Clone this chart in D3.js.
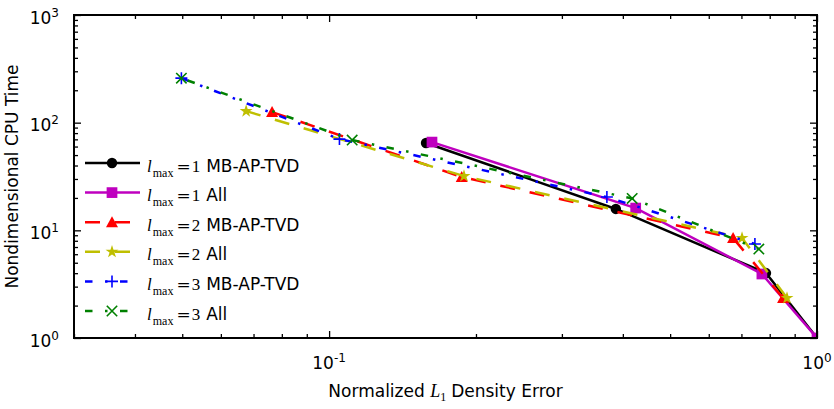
<!DOCTYPE html>
<html lang="en">
<head>
<meta charset="UTF-8">
<title>CPU time vs density error</title>
<script src="https://d3js.org/d3.v7.min.js"></script>
<style>
  body { margin: 0; background: #fff; }
  svg { display: block; font-family: "DejaVu Sans", sans-serif; }
  .math { font-family: "Liberation Serif", "DejaVu Serif", serif; }
  .tick line { stroke: #000; stroke-width: 1.3; }
</style>
</head>
<body>
<svg id="chart" width="834" height="409"></svg>
<script>
// values (x = normalized L1 error, y = CPU time)
const l1MbErr  = [0.158, 0.387, 0.786, 1.0];
const l1MbCpu  = [64.7, 15.8, 4.01, 1.0];
const l1AllErr = [0.1625, 0.425, 0.771, 1.0];
const l1AllCpu = [66.0, 16.1, 3.93, 1.0];
const l2MbErr  = [0.0764, 0.187, 0.673, 0.852];
const l2MbCpu  = [125.4, 31.3, 8.48, 2.35];
const l2AllErr = [0.0676, 0.189, 0.702, 0.868];
const l2AllCpu = [128, 31.9, 8.48, 2.35];
const l3MbErr  = [0.0498, 0.105, 0.371, 0.746];
const l3MbCpu  = [259, 70.4, 20.4, 7.46];
const l3AllErr = [0.0498, 0.1115, 0.418, 0.760];
const l3AllCpu = [259, 68.9, 19.8, 6.70];

const lmaxValues = ["1", "1", "2", "2", "3", "3"];
const methodNames = ["MB-AP-TVD", "All", "MB-AP-TVD", "All", "MB-AP-TVD", "All"];

const xMajorTicks = [0.1, 1];
const yMajorTicks = [1, 10, 100, 1000];
const xTickExp = ["-1", "0"];
const yTickExp = ["0", "1", "2", "3"];

const width = 834, height = 409;
const margin = {top: 15, right: 17, bottom: 71, left: 74};
const fs = 17;

const x = d3.scaleLog().domain([0.03, 1]).range([margin.left, width - margin.right]);
const y = d3.scaleLog().domain([1, 1000]).range([height - margin.bottom, margin.top]);

const svg = d3.select("#chart");

// series table (style per series)
const series = [
    {err: l1MbErr,  cpu: l1MbCpu,  color: "#000000", dash: null,                 marker: "circle"},
    {err: l1AllErr, cpu: l1AllCpu, color: "#bf00bf", dash: null,                 marker: "square"},
    {err: l2MbErr,  cpu: l2MbCpu,  color: "#ff0000", dash: "15,15",              marker: "triangle"},
    {err: l2AllErr, cpu: l2AllCpu, color: "#bfbf00", dash: "15,15",              marker: "star"},
    {err: l3MbErr,  cpu: l3MbCpu,  color: "#0000ff", dash: "7.5,12.5,2.5,12.5",  marker: "plus"},
    {err: l3AllErr, cpu: l3AllCpu, color: "#008000", dash: "7.5,12.5,2.5,12.5",  marker: "cross", offset: 28.3}
];
series.forEach((s, i) => {
    s.points = s.err.map((e, j) => [e, s.cpu[j]]);
    s.lmax = lmaxValues[i];
    s.name = methodNames[i];
});

function drawMarker(g, type, color) {
    if (type === "plus") {
        g.append("path").attr("d", "M-6,0H6M0,-6V6")
            .attr("stroke", color).attr("stroke-width", 1.6).attr("fill", "none");
    } else if (type === "cross") {
        g.append("path").attr("d", "M-5.2,-5.2L5.2,5.2M-5.2,5.2L5.2,-5.2")
            .attr("stroke", color).attr("stroke-width", 1.6).attr("fill", "none");
    } else if (type === "triangle") {
        g.append("path").attr("d", "M0,-6L6,5L-6,5Z").attr("fill", color);
    } else {
        const sym = {circle: [d3.symbolCircle, 85], square: [d3.symbolSquare, 115], star: [d3.symbolStar, 52]}[type];
        g.append("path").attr("d", d3.symbol(sym[0], sym[1])()).attr("fill", color);
    }
}

// clip
svg.append("defs").append("clipPath").attr("id", "plotClip")
    .append("rect")
    .attr("x", margin.left).attr("y", margin.top)
    .attr("width", width - margin.left - margin.right)
    .attr("height", height - margin.top - margin.bottom);

// ticks (inward, all four sides)
const xMinor = x.ticks().filter(v => !xMajorTicks.includes(+v.toPrecision(3)));
const yMinor = y.ticks().filter(v => !yMajorTicks.includes(+v.toPrecision(3)));

function tickAxis(axisFn, scale, values, size, transform) {
    svg.append("g").attr("transform", transform)
        .call(axisFn(scale).tickValues(values).tickSize(-size).tickFormat(""))
        .call(g => g.select(".domain").remove());
}
const bottomY = height - margin.bottom, rightX = width - margin.right;
tickAxis(d3.axisBottom, x, xMinor, 4, `translate(0,${bottomY})`);
tickAxis(d3.axisBottom, x, xMajorTicks, 7, `translate(0,${bottomY})`);
tickAxis(d3.axisTop, x, xMinor, 4, `translate(0,${margin.top})`);
tickAxis(d3.axisTop, x, xMajorTicks, 7, `translate(0,${margin.top})`);
tickAxis(d3.axisLeft, y, yMinor, 4, `translate(${margin.left},0)`);
tickAxis(d3.axisLeft, y, yMajorTicks, 7, `translate(${margin.left},0)`);
tickAxis(d3.axisRight, y, yMinor, 4, `translate(${rightX},0)`);
tickAxis(d3.axisRight, y, yMajorTicks, 7, `translate(${rightX},0)`);

// tick labels
xMajorTicks.forEach((v, i) => {
    const t = svg.append("text").attr("x", x(v)).attr("y", bottomY + 31)
        .attr("text-anchor", "middle").attr("font-size", fs);
    t.append("tspan").text("10");
    t.append("tspan").attr("font-size", 12).attr("dy", -7).text(xTickExp[i]);
});
yMajorTicks.forEach((v, i) => {
    const t = svg.append("text").attr("x", 59).attr("y", y(v) + 8.5)
        .attr("text-anchor", "end").attr("font-size", fs);
    t.append("tspan").text("10");
    t.append("tspan").attr("font-size", 12).attr("dy", -7).text(yTickExp[i]);
});

// axis titles
const xt = svg.append("text").attr("x", (margin.left + rightX) / 2).attr("y", 397)
    .attr("text-anchor", "middle").attr("font-size", fs);
xt.append("tspan").text("Normalized ");
xt.append("tspan").attr("class", "math").attr("font-style", "italic").attr("font-size", 18).text("L");
xt.append("tspan").attr("class", "math").attr("font-size", 12).attr("dy", 4).text("1");
xt.append("tspan").attr("dy", -4).attr("dx", 5).text("Density Error");

svg.append("text")
    .attr("transform", `translate(18,${(margin.top + bottomY) / 2}) rotate(-90)`)
    .attr("text-anchor", "middle").attr("font-size", fs)
    .text("Nondimensional CPU Time");

// data
const line = d3.line().x(d => x(d[0])).y(d => y(d[1]));
const plot = svg.append("g").attr("clip-path", "url(#plotClip)");
series.forEach(s => {
    plot.append("path").datum(s.points)
        .attr("d", line)
        .attr("fill", "none")
        .attr("stroke", s.color)
        .attr("stroke-width", 2.5)
        .attr("stroke-dasharray", s.dash)
        .attr("stroke-dashoffset", s.offset || 0);
    s.points.forEach(p => {
        const g = plot.append("g").attr("transform", `translate(${x(p[0])},${y(p[1])})`);
        drawMarker(g, s.marker, s.color);
    });
});

// frame
svg.append("rect")
    .attr("x", margin.left).attr("y", margin.top)
    .attr("width", rightX - margin.left).attr("height", bottomY - margin.top)
    .attr("fill", "none").attr("stroke", "#000").attr("stroke-width", 2);

// legend
const legend = svg.append("g");
series.forEach((s, i) => {
    const ly = 163 + i * 29.6;
    legend.append("line")
        .attr("x1", 85).attr("x2", 140).attr("y1", ly).attr("y2", ly)
        .attr("stroke", s.color).attr("stroke-width", 2.5)
        .attr("stroke-dasharray", s.dash);
    drawMarker(legend.append("g").attr("transform", `translate(112,${ly})`), s.marker, s.color);

    const t = legend.append("text").attr("x", 147).attr("y", ly + 8.5).attr("font-size", fs);
    t.append("tspan").attr("class", "math").attr("font-style", "italic").text("l");
    t.append("tspan").attr("class", "math").attr("font-size", 12).attr("dy", 5).attr("dx", 1).text("max");
    t.append("tspan").attr("font-family", "DejaVu Serif").attr("dy", -5).attr("dx", 3).text("=");
    t.append("tspan").attr("class", "math").attr("dx", 1).text(s.lmax);
    t.append("tspan").attr("dx", 6).text(s.name);
});
</script>
</body>
</html>
